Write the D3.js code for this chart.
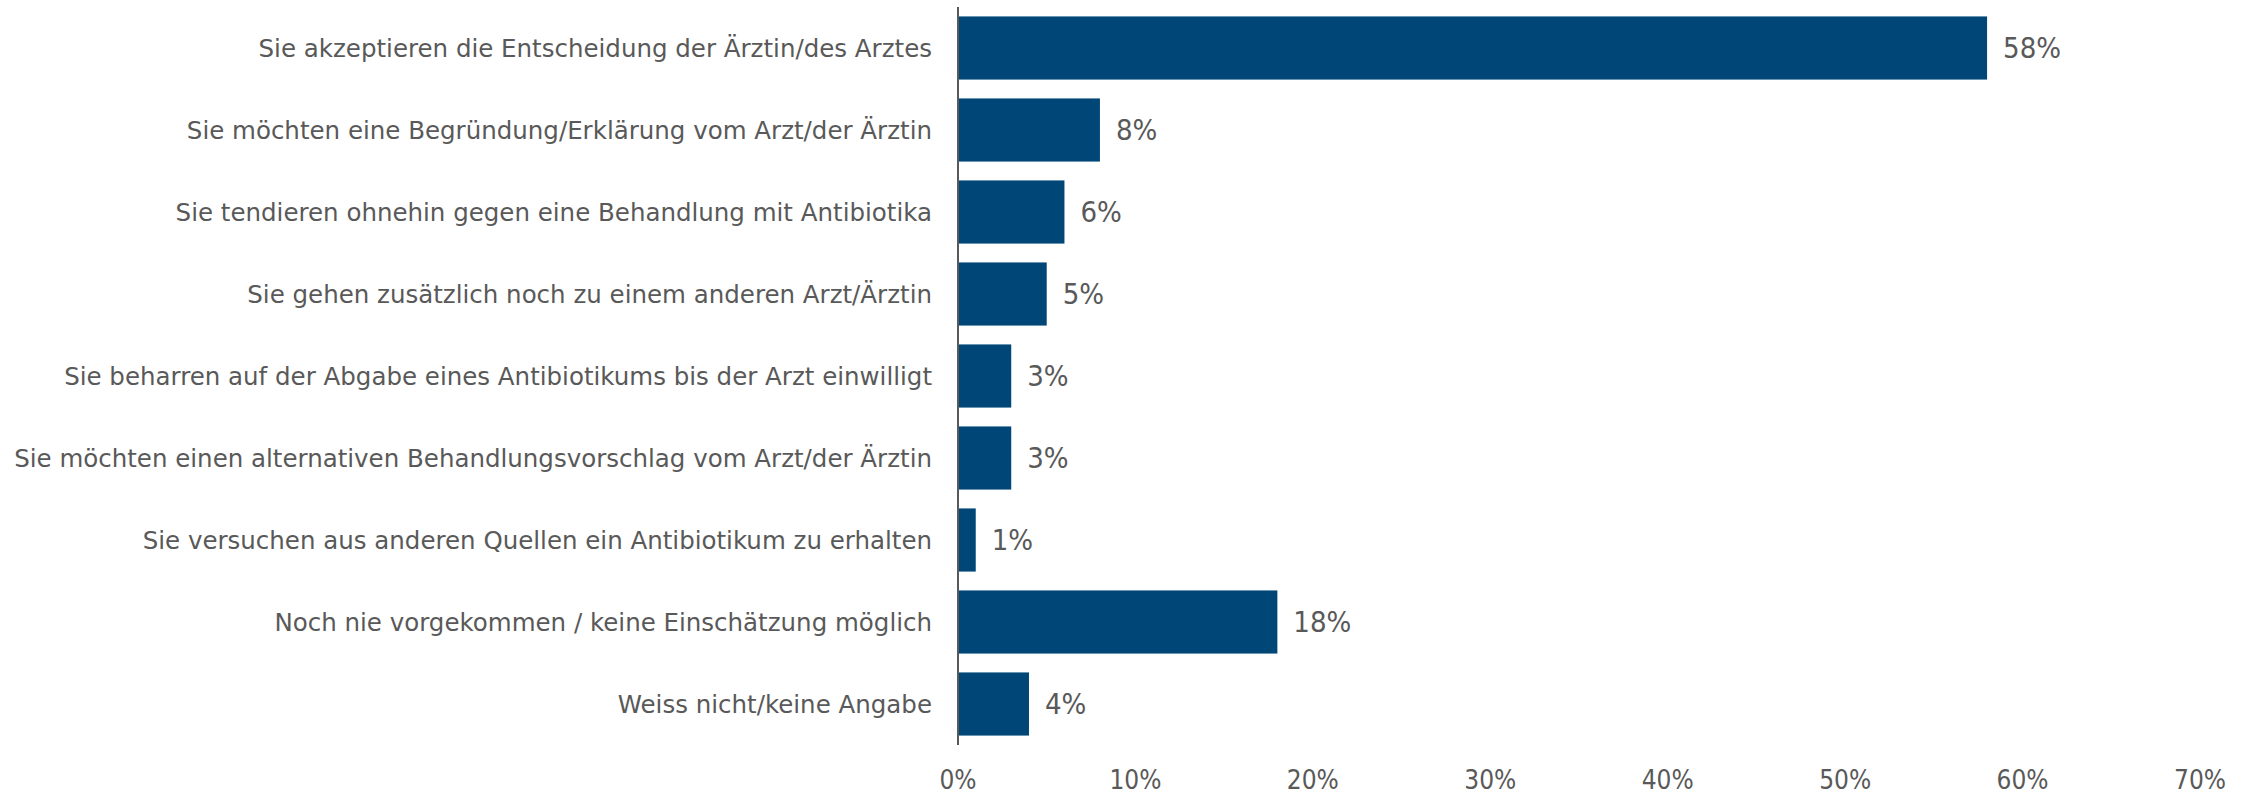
<!DOCTYPE html>
<html lang="de">
<head>
    <meta charset="UTF-8">
    <title>Balkendiagramm</title>
    <script src="https://cdn.jsdelivr.net/npm/d3@7"></script>
    <style>
        body{margin:0;background:#fff;}
        text{font-family:"DejaVu Sans Condensed","DejaVu Sans",sans-serif;fill:#595959;}
        text.cat{font-family:"DejaVu Sans",sans-serif;}
    </style>
</head>
<body>
<svg width="2258" height="795"></svg>
<script type="text/javascript">
    // Daten
    var categories=[
        'Sie akzeptieren die Entscheidung der Ärztin/des Arztes',
        'Sie möchten eine Begründung/Erklärung vom Arzt/der Ärztin',
        'Sie tendieren ohnehin gegen eine Behandlung mit Antibiotika',
        'Sie gehen zusätzlich noch zu einem anderen Arzt/Ärztin',
        'Sie beharren auf der Abgabe eines Antibiotikums bis der Arzt einwilligt',
        'Sie möchten einen alternativen Behandlungsvorschlag vom Arzt/der Ärztin',
        'Sie versuchen aus anderen Quellen ein Antibiotikum zu erhalten',
        'Noch nie vorgekommen / keine Einschätzung möglich',
        'Weiss nicht/keine Angabe'
    ];
    var values=[58,8,6,5,3,3,1,18,4];
    var ticks=[0,10,20,30,40,50,60,70];

    var svg=d3.select('svg');
    var x0=958, x1=2200, yTop=7, yBottom=745;

    var x=d3.scaleLinear().domain([0,70]).range([x0,x1]);
    var y=d3.scaleBand().domain(categories).range([yTop,yBottom])
        .paddingInner(0.23).paddingOuter(0.115);

    var g=svg.append('g');

    // Balken
    g.selectAll('rect.bar')
        .data(values)
        .enter()
        .append('rect')
        .attr('class','bar')
        .attr('x',x(0))
        .attr('y',function(d,i){return y(categories[i]);})
        .attr('width',function(d){return x(d)-x(0);})
        .attr('height',y.bandwidth())
        .attr('fill','#004677');

    // Werte
    g.selectAll('text.val')
        .data(values)
        .enter()
        .append('text')
        .attr('class','val')
        .attr('x',function(d){return x(d)+16;})
        .attr('y',function(d,i){return y(categories[i])+y.bandwidth()/2;})
        .attr('dy','0.36em')
        .style('font-size','29px')
        .text(function(d){return d+'%';});

    // Kategorien
    g.selectAll('text.cat')
        .data(categories)
        .enter()
        .append('text')
        .attr('class','cat')
        .attr('x',x0-26)
        .attr('y',function(d){return y(d)+y.bandwidth()/2;})
        .attr('dy','0.36em')
        .attr('text-anchor','end')
        .style('font-size','24.5px')
        .text(function(d){return d;});

    // Achse
    g.append('line')
        .attr('x1',x0).attr('x2',x0)
        .attr('y1',yTop).attr('y2',yBottom)
        .attr('stroke','#595959').attr('stroke-width',2);

    g.selectAll('text.tick')
        .data(ticks)
        .enter()
        .append('text')
        .attr('class','tick')
        .attr('x',function(d){return x(d);})
        .attr('y',780)
        .attr('dy','0.36em')
        .attr('text-anchor','middle')
        .style('font-size','26px')
        .text(function(d){return d+'%';});
</script>
</body>
</html>
